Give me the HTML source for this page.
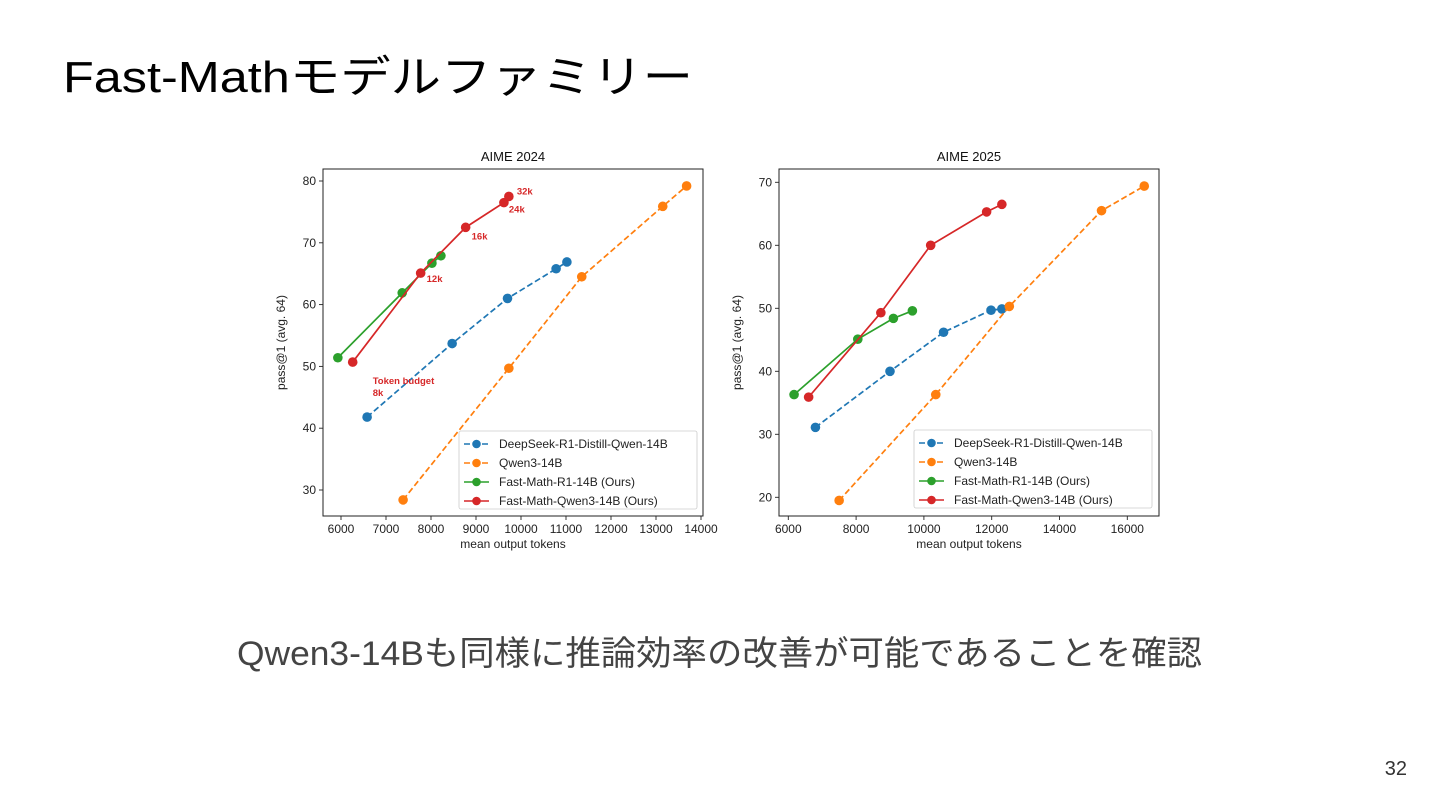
<!DOCTYPE html>
<html><head><meta charset="utf-8"><style>
html,body{margin:0;padding:0;background:#fff;}
svg{display:block;}
text{font-family:"Liberation Sans","DejaVu Sans","Noto Sans CJK JP",sans-serif;}
</style></head><body>
<svg id="page" width="1440" height="810" viewBox="0 0 1440 810" xmlns="http://www.w3.org/2000/svg">
<text x="63" y="92" font-size="44" fill="#000" textLength="630" lengthAdjust="spacingAndGlyphs" style='font-family:"Liberation Sans","Noto Sans CJK JP",sans-serif'>Fast-Mathモデルファミリー</text>
<text x="237" y="665" font-size="34" fill="#444" textLength="965" lengthAdjust="spacingAndGlyphs" style='font-family:"Liberation Sans","Noto Sans CJK JP",sans-serif'>Qwen3-14Bも同様に推論効率の改善が可能であることを確認</text>
<text x="1407" y="775" font-size="20" fill="#333" text-anchor="end">32</text>
<g id="chart1"></g>
<g id="chart2"></g>
</svg>
<script>
const seriesNames = ["DeepSeek-R1-Distill-Qwen-14B","Qwen3-14B","Fast-Math-R1-14B (Ours)","Fast-Math-Qwen3-14B (Ours)"];
const seriesColors = ["#1f77b4","#ff7f0e","#2ca02c","#d62728"];
const seriesDashed = [true,true,false,false];
// AIME 2024
const a24_blueX=[6580,8470,9700,10780,11020], a24_blueY=[41.8,53.7,61,65.8,66.9];
const a24_orangeX=[7380,9730,11350,13150,13680], a24_orangeY=[28.4,49.7,64.5,75.9,79.2];
const a24_greenX=[5930,7360,8020,8220], a24_greenY=[51.4,61.9,66.7,67.9];
const a24_redX=[6260,7770,8770,9620,9730], a24_redY=[50.7,65.1,72.5,76.5,77.5];
const a24_xTicks=[6000,7000,8000,9000,10000,11000,12000,13000,14000];
const a24_yTicks=[30,40,50,60,70,80];
// AIME 2025
const a25_blueX=[6800,9000,10580,11980,12300], a25_blueY=[31.1,40,46.2,49.7,49.9];
const a25_orangeX=[7500,10350,12520,15240,16500], a25_orangeY=[19.5,36.3,50.3,65.5,69.4];
const a25_greenX=[6170,8050,9100,9660], a25_greenY=[36.3,45.1,48.4,49.6];
const a25_redX=[6600,8730,10200,11850,12300], a25_redY=[35.9,49.3,60,65.3,66.5];
const a25_xTicks=[6000,8000,10000,12000,14000,16000];
const a25_yTicks=[20,30,40,50,60,70];
const budgetLabels=["Token budget\n8k","12k","16k","24k","32k"];

const NS="http://www.w3.org/2000/svg";
function mk(parent,tag,attrs,txt){const e=document.createElementNS(NS,tag);for(const k in attrs)e.setAttribute(k,attrs[k]);if(txt!==undefined)e.textContent=txt;parent.appendChild(e);return e;}

function drawChart(g,cfg){
  const sx=v=>cfg.x0px+(v-cfg.x0)*(cfg.x1px-cfg.x0px)/(cfg.x1-cfg.x0);
  const sy=v=>cfg.y0px+(v-cfg.y0)*(cfg.y1px-cfg.y0px)/(cfg.y1-cfg.y0);
  const L=cfg.box[0],T=cfg.box[1],R=cfg.box[2],B=cfg.box[3];
  const t=mk(g,'text',{x:(L+R)/2,y:T-8,'font-size':13,'text-anchor':'middle',fill:'#111'},cfg.title);
  
  
  cfg.xTicks.forEach(v=>{const x=sx(v);
    const tk=mk(g,'line',{x1:x,x2:x,y1:B,y2:B+4,stroke:'#222','stroke-width':0.9});
    
    
    const lb=mk(g,'text',{x:x,y:B+17,'font-size':12,'text-anchor':'middle',fill:'#222'},String(v));
    
    });
  cfg.yTicks.forEach(v=>{const y=sy(v);
    const tk=mk(g,'line',{x1:L-4,x2:L,y1:y,y2:y,stroke:'#222','stroke-width':0.9});
    
    
    const lb=mk(g,'text',{x:L-7,y:y+4,'font-size':12,'text-anchor':'end',fill:'#222'},String(v));
    
    });
  const xt=mk(g,'text',{x:(L+R)/2,y:B+32,'font-size':12,'text-anchor':'middle',fill:'#222'},'mean output tokens');
  
  
  const yt=mk(g,'text',{x:0,y:0,'font-size':12,'text-anchor':'middle',fill:'#222',transform:`translate(${L-38},${(T+B)/2}) rotate(-90)`},'pass@1 (avg. 64)');
  
  
  cfg.series.forEach((s,i)=>{
    const pts=s.x.map((v,j)=>sx(v)+','+sy(s.y[j])).join(' ');
    const pl=mk(g,'polyline',{points:pts,fill:'none',stroke:seriesColors[i],'stroke-width':1.7,'stroke-dasharray':seriesDashed[i]?'6,3':'none'});
    
    
    s.x.forEach((v,j)=>{const c=mk(g,'circle',{cx:sx(v),cy:sy(s.y[j]),r:4.8,fill:seriesColors[i]});
      
      });
  });
  if(cfg.annot){const s=cfg.series[3];
    const off=[[20,22],[6,9],[6,12],[5,10],[8,-2]];
    s.x.forEach((v,j)=>{const lines=budgetLabels[j].split('\n');const bx=sx(v)+off[j][0],by=sy(s.y[j])+off[j][1];
      lines.forEach((ln,k)=>{const a=mk(g,'text',{x:bx,y:by+k*12,'font-size':9.5,'font-weight':'bold',fill:'#d62728'},ln);
        
        });});}
  const lx=cfg.legend[0],ly=cfg.legend[1];
  const lg=mk(g,'rect',{x:lx,y:ly,width:cfg.legend[2],height:78,fill:'#fff','fill-opacity':0.85,stroke:'#ccc','stroke-width':0.8,rx:2});
  
  
  seriesNames.forEach((n,i)=>{const yy=ly+13+i*19;
    mk(g,'line',{x1:lx+5,x2:lx+30,y1:yy,y2:yy,stroke:seriesColors[i],'stroke-width':1.6,'stroke-dasharray':seriesDashed[i]?'6,3':'none'});
    mk(g,'circle',{cx:lx+17.5,cy:yy,r:4.3,fill:seriesColors[i]});
    const tx=mk(g,'text',{x:lx+40,y:yy+4,'font-size':12,fill:'#222'},n);
    
    });
  const fr=mk(g,'rect',{x:L,y:T,width:R-L,height:B-T,fill:'none',stroke:'#222','stroke-width':1});
  
  
}
drawChart(document.getElementById('chart1'),{title:'AIME 2024',box:[323,169,703,516],
  x0:6000,x1:14000,x0px:341,x1px:701,y0:30,y1:80,y0px:490,y1px:181,
  xTicks:a24_xTicks,yTicks:a24_yTicks,annot:true,legend:[459,431,238],
  series:[{x:a24_blueX,y:a24_blueY},{x:a24_orangeX,y:a24_orangeY},{x:a24_greenX,y:a24_greenY},{x:a24_redX,y:a24_redY}]});
drawChart(document.getElementById('chart2'),{title:'AIME 2025',box:[779,169,1159,516],
  x0:6000,x1:16000,x0px:788.3,x1px:1127.3,y0:20,y1:70,y0px:497.3,y1px:182.3,
  xTicks:a25_xTicks,yTicks:a25_yTicks,annot:false,legend:[914,430,238],
  series:[{x:a25_blueX,y:a25_blueY},{x:a25_orangeX,y:a25_orangeY},{x:a25_greenX,y:a25_greenY},{x:a25_redX,y:a25_redY}]});
</script>
</body></html>
